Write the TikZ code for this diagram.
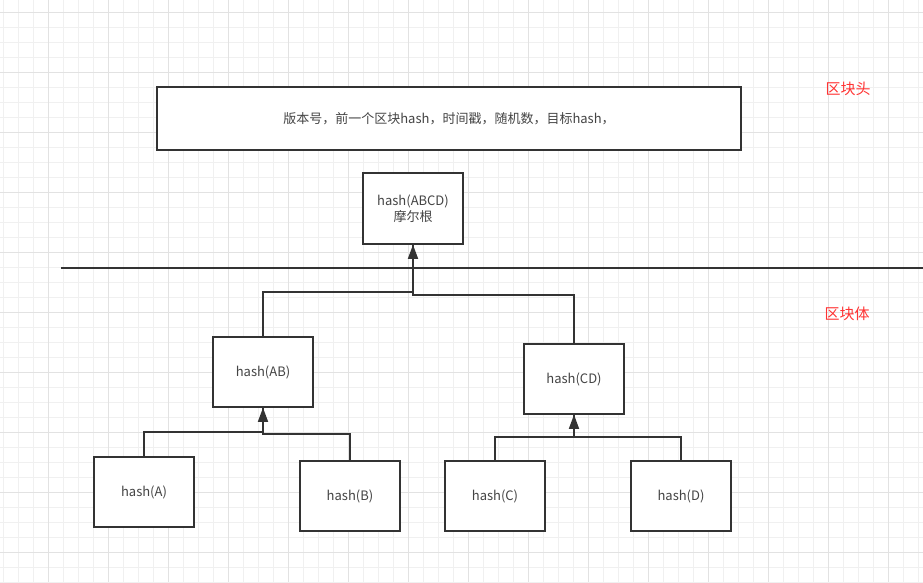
\documentclass[tikz,border=0pt]{standalone}
\usepackage{fontspec}
\setmainfont{Noto Sans CJK SC}
\usetikzlibrary{arrows.meta}
\definecolor{gminor}{HTML}{F0F0F0}
\definecolor{gmajor}{HTML}{E2E2E2}
\definecolor{ink}{HTML}{333333}
\definecolor{txt}{HTML}{444444}
\definecolor{redlbl}{HTML}{FF3333}
\tikzset{
  hbox/.style={draw=ink, line width=1.5pt, fill=white, minimum width=100pt, minimum height=70pt, inner sep=0pt, text=txt, font=\fontsize{13}{15}\selectfont, align=center},
  conn/.style={draw=ink, line width=1.5pt},
  arr/.style={conn, -{Triangle[width=10pt,length=14pt]}},
  lbl/.style={text=redlbl, font=\fontsize{15}{17}\selectfont, inner sep=0pt}
}
\begin{document}
\begin{tikzpicture}[x=1pt,y=-1pt]
\useasboundingbox (0,0) rectangle (923,582);
\fill[white] (0,0) rectangle (923,582);
% grid
\foreach \x in {3.3,18.3,...,923} \draw[gminor, line width=0.8pt] (\x,0) -- (\x,582);
\foreach \y in {12,27,...,582} \draw[gminor, line width=0.8pt] (0,\y) -- (923,\y);
\foreach \x in {48.3,108.3,...,923} \draw[gmajor, line width=0.8pt] (\x,0) -- (\x,582);
\foreach \y in {12,72,...,582} \draw[gmajor, line width=0.8pt] (0,\y) -- (923,\y);

% header box
\node[hbox, minimum width=584pt, minimum height=63pt] (hdr) at (449,118.5) {版本号，前一个区块hash，时间戳，随机数，目标hash，};
\node[hbox, minimum height=71pt, font=\fontsize{13}{16}\selectfont] (abcd) at (413,208.5) {hash(ABCD)\\摩尔根};

% separator line
\coordinate (sepL) at (61,268);
\coordinate (sepR) at (923,268);
\draw[draw=ink, line width=1.8pt] (sepL) -- (sepR);

% red labels
\node[lbl] (lhead) at (848,89) {区块头};
\node[lbl] (lbody) at (847,314) {区块体};

% hash nodes
\node[hbox] (ab) at (263,372) {hash(AB)};
\node[hbox] (cd) at (574,379) {hash(CD)};
\node[hbox] (a) at (144,492) {hash(A)};
\node[hbox] (b) at (350,496) {hash(B)};
\node[hbox] (c) at (495,496) {hash(C)};
\node[hbox] (d) at (681,496) {hash(D)};

% junctions
\coordinate (jab) at (263,292);
\coordinate (jcd) at (574,295);
\coordinate (ja) at (144,432);
\coordinate (jb) at (350,434);
\coordinate (jc) at (495,437);
\coordinate (jd) at (681,437);

\draw[conn] (cd.north) -- (jcd) -| (abcd.south);
\draw[arr] (ab.north) -- (jab) -| (abcd.south);
\draw[conn] (b.north) -- (jb) -| (ab.south);
\draw[arr] (a.north) -- (ja) -| (ab.south);
\draw[conn] (d.north) -- (jd) -| (cd.south);
\draw[arr] (c.north) -- (jc) -| (cd.south);
\end{tikzpicture}
\end{document}
